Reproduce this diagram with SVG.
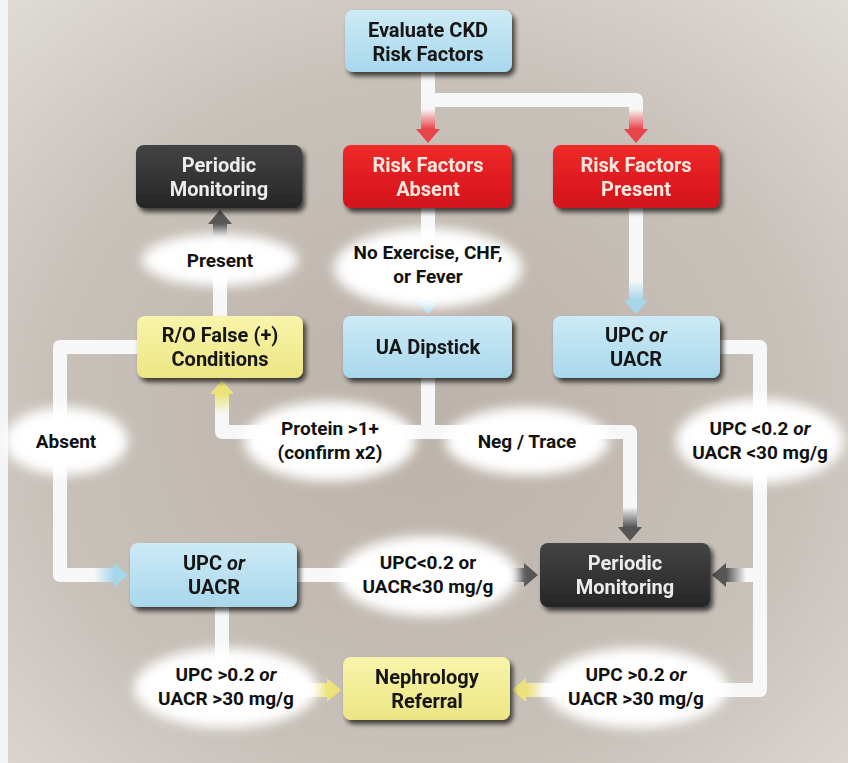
<svg xmlns="http://www.w3.org/2000/svg" width="848" height="763" viewBox="0 0 848 763">
<defs>
<radialGradient id="bg" cx="0.5" cy="0.55" r="0.75">
<stop offset="0" stop-color="#bbb2a9"/>
<stop offset="0.6" stop-color="#c8c1ba"/>
<stop offset="1" stop-color="#e0dcd8"/>
</radialGradient>
<linearGradient id="gBlue" x1="0" y1="0" x2="0" y2="1">
<stop offset="0" stop-color="#cdeaf6"/><stop offset="1" stop-color="#a8d7ec"/>
</linearGradient>
<linearGradient id="gRed" x1="0" y1="0" x2="0" y2="1">
<stop offset="0" stop-color="#ee2a2a"/><stop offset="1" stop-color="#d2121a"/>
</linearGradient>
<linearGradient id="gDark" x1="0" y1="0" x2="0" y2="1">
<stop offset="0" stop-color="#444"/><stop offset="1" stop-color="#262626"/>
</linearGradient>
<linearGradient id="gYel" x1="0" y1="0" x2="0" y2="1">
<stop offset="0" stop-color="#f8f4aa"/><stop offset="1" stop-color="#ede584"/>
</linearGradient>
<linearGradient id="fRed" x1="0" y1="0" x2="1" y2="0"><stop offset="0" stop-color="#e8454a" stop-opacity="0"/><stop offset="1" stop-color="#e8454a"/></linearGradient>
<linearGradient id="fBlue" x1="0" y1="0" x2="1" y2="0"><stop offset="0" stop-color="#a6d6ea" stop-opacity="0"/><stop offset="1" stop-color="#a6d6ea"/></linearGradient>
<linearGradient id="fGrey" x1="0" y1="0" x2="1" y2="0"><stop offset="0" stop-color="#555" stop-opacity="0"/><stop offset="1" stop-color="#555"/></linearGradient>
<linearGradient id="fYel" x1="0" y1="0" x2="1" y2="0"><stop offset="0" stop-color="#ece27a" stop-opacity="0"/><stop offset="1" stop-color="#ece27a"/></linearGradient>
<filter id="shadow" x="-10%" y="-10%" width="130%" height="140%">
<feGaussianBlur in="SourceAlpha" stdDeviation="2.5"/>
<feOffset dx="3" dy="4" result="o"/>
<feComponentTransfer><feFuncA type="linear" slope="0.7"/></feComponentTransfer>
<feMerge><feMergeNode/><feMergeNode in="SourceGraphic"/></feMerge>
</filter>
<filter id="glow" x="-30%" y="-30%" width="160%" height="160%">
<feGaussianBlur stdDeviation="6"/>
</filter>
<marker id="aRed" markerUnits="userSpaceOnUse" markerWidth="14" markerHeight="24" refX="0" refY="12" orient="auto" overflow="visible">
<rect x="-20" y="5" width="20" height="14" fill="url(#fRed)"/><path d="M0,0 L14,12 L0,24 Z" fill="#e8454a"/>
</marker>
<marker id="aBlue" markerUnits="userSpaceOnUse" markerWidth="14" markerHeight="24" refX="0" refY="12" orient="auto" overflow="visible">
<rect x="-20" y="5" width="20" height="14" fill="url(#fBlue)"/><path d="M0,0 L14,12 L0,24 Z" fill="#a6d6ea"/>
</marker>
<marker id="aGrey" markerUnits="userSpaceOnUse" markerWidth="14" markerHeight="24" refX="0" refY="12" orient="auto" overflow="visible">
<rect x="-20" y="5" width="20" height="14" fill="url(#fGrey)"/><path d="M0,0 L14,12 L0,24 Z" fill="#555"/>
</marker>
<marker id="aYel" markerUnits="userSpaceOnUse" markerWidth="14" markerHeight="24" refX="0" refY="12" orient="auto" overflow="visible">
<rect x="-20" y="5" width="20" height="14" fill="url(#fYel)"/><path d="M0,0 L14,12 L0,24 Z" fill="#ece27a"/>
</marker>
</defs>
<style>
.t{font-family:Roboto,"Noto Sans","Liberation Sans",sans-serif;font-weight:700;font-size:20px;text-anchor:middle}
.w{fill:#ececec}
.k{fill:#151515}
.r{fill:#fbe9e0}
.l{font-family:Roboto,"Noto Sans","Liberation Sans",sans-serif;font-weight:700;font-size:19px;text-anchor:middle;fill:#111}
.c{fill:none;stroke:#f7f7f7;stroke-width:14;stroke-linejoin:round}
.e{fill:#ffffff;filter:url(#glow)}
.box{filter:url(#shadow)}
</style>
<rect width="848" height="763" fill="url(#bg)"/>
<rect width="8" height="763" fill="#f4f4f4"/>

<g id="connectors">
<path class="c" d="M428,72 V100 H636 V129" marker-end="url(#aRed)"/>
<path class="c" d="M428,90 V129" marker-end="url(#aRed)"/>
<path class="c" d="M428,208 V300" marker-end="url(#aBlue)"/>
<path class="c" d="M636,208 V300" marker-end="url(#aBlue)"/>
<path class="c" d="M220,316 V224" marker-end="url(#aGrey)"/>
<path class="c" d="M137,347 H60 V575 H114" marker-end="url(#aBlue)"/>
<path class="c" d="M428,378 V432 H222 V394" marker-end="url(#aYel)"/>
<path class="c" d="M428,420 V432 H630 V527" marker-end="url(#aGrey)"/>
<path class="c" d="M720,347 H760 V690 H526" marker-end="url(#aYel)"/>
<path class="c" d="M760,575 H726" marker-end="url(#aGrey)"/>
<path class="c" d="M297,575 H524" marker-end="url(#aGrey)"/>
<path class="c" d="M222,607 V690 H327" marker-end="url(#aYel)"/>
</g>

<g id="labels">
<ellipse class="e" cx="220" cy="260" rx="78" ry="26"/>
<text class="l" x="220" y="267">Present</text>
<ellipse class="e" cx="428" cy="268" rx="94" ry="40"/>
<text class="l" x="428" y="259">No Exercise, CHF,</text>
<text class="l" x="428" y="283">or Fever</text>
<ellipse class="e" cx="66" cy="441" rx="62" ry="34"/>
<text class="l" x="66" y="448">Absent</text>
<ellipse class="e" cx="330" cy="441" rx="86" ry="40"/>
<text class="l" x="330" y="435">Protein &gt;1+</text>
<text class="l" x="330" y="459">(confirm x2)</text>
<ellipse class="e" cx="527" cy="441" rx="82" ry="34"/>
<text class="l" x="527" y="448">Neg / Trace</text>
<ellipse class="e" cx="760" cy="441" rx="84" ry="42"/>
<text class="l" x="760" y="435">UPC &lt;0.2 <tspan font-style="italic">or</tspan></text>
<text class="l" x="760" y="459">UACR &lt;30 mg/g</text>
<ellipse class="e" cx="428" cy="576" rx="90" ry="40"/>
<text class="l" x="428" y="569">UPC&lt;0.2 or</text>
<text class="l" x="428" y="593">UACR&lt;30 mg/g</text>
<ellipse class="e" cx="226" cy="688" rx="92" ry="40"/>
<text class="l" x="226" y="681">UPC &gt;0.2 <tspan font-style="italic">or</tspan></text>
<text class="l" x="226" y="705">UACR &gt;30 mg/g</text>
<ellipse class="e" cx="636" cy="688" rx="92" ry="40"/>
<text class="l" x="636" y="681">UPC &gt;0.2 <tspan font-style="italic">or</tspan></text>
<text class="l" x="636" y="705">UACR &gt;30 mg/g</text>
</g>

<g id="n-evaluate" class="box">
<rect x="345" y="10" width="167" height="62" rx="8" fill="url(#gBlue)"/>
<text class="t k" x="428" y="37">Evaluate CKD</text>
<text class="t k" x="428" y="61">Risk Factors</text>
</g>
<g id="n-absent" class="box">
<rect x="343" y="145" width="169" height="63" rx="8" fill="url(#gRed)"/>
<text class="t r" x="428" y="172">Risk Factors</text>
<text class="t r" x="428" y="196">Absent</text>
</g>
<g id="n-present" class="box">
<rect x="553" y="145" width="167" height="63" rx="8" fill="url(#gRed)"/>
<text class="t r" x="636" y="172">Risk Factors</text>
<text class="t r" x="636" y="196">Present</text>
</g>
<g id="n-monitor-top" class="box">
<rect x="136" y="145" width="166" height="63" rx="8" fill="url(#gDark)"/>
<text class="t w" x="219" y="172">Periodic</text>
<text class="t w" x="219" y="196">Monitoring</text>
</g>
<g id="n-ro-false" class="box">
<rect x="137" y="316" width="166" height="62" rx="8" fill="url(#gYel)"/>
<text class="t k" x="220" y="342">R/O False (+)</text>
<text class="t k" x="220" y="366">Conditions</text>
</g>
<g id="n-dipstick" class="box">
<rect x="343" y="316" width="169" height="62" rx="8" fill="url(#gBlue)"/>
<text class="t k" x="428" y="354">UA Dipstick</text>
</g>
<g id="n-upc-right" class="box">
<rect x="553" y="316" width="167" height="62" rx="8" fill="url(#gBlue)"/>
<text class="t k" x="636" y="342">UPC <tspan font-style="italic">or</tspan></text>
<text class="t k" x="636" y="366">UACR</text>
</g>
<g id="n-upc-left" class="box">
<rect x="130" y="543" width="167" height="64" rx="8" fill="url(#gBlue)"/>
<text class="t k" x="214" y="570">UPC <tspan font-style="italic">or</tspan></text>
<text class="t k" x="214" y="594">UACR</text>
</g>
<g id="n-monitor-bottom" class="box">
<rect x="540" y="543" width="170" height="64" rx="8" fill="url(#gDark)"/>
<text class="t w" x="625" y="570">Periodic</text>
<text class="t w" x="625" y="594">Monitoring</text>
</g>
<g id="n-nephrology" class="box">
<rect x="343" y="657" width="167" height="63" rx="8" fill="url(#gYel)"/>
<text class="t k" x="427" y="684">Nephrology</text>
<text class="t k" x="427" y="708">Referral</text>
</g>
</svg>
